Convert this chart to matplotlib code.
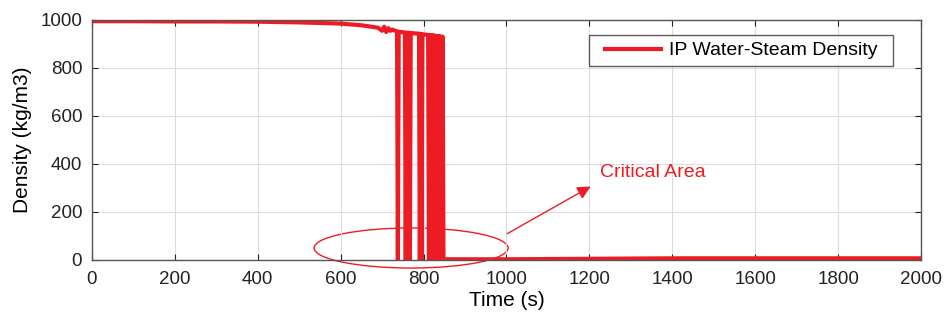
import matplotlib.pyplot as plt
from matplotlib.patches import Ellipse
from matplotlib.path import Path

plt.rcParams['font.family'] = ['Liberation Sans', 'DejaVu Sans']

# Time (s)
time = [0, 100, 200, 300, 400, 500, 600, 650, 690, 700, 705, 710, 715, 720, 725, 730, 736,
        738, 740, 750, 755, 757, 759, 765, 767, 769, 780, 789, 791, 793, 795, 797, 799, 805,
        811, 813, 815, 817, 819, 821, 823, 825, 827, 829, 831, 833, 835, 837, 839, 841, 843,
        845, 846, 848, 900, 1000, 1100, 1200, 1300, 1400, 1600, 1800, 2000]
# Density (kg/m3)
density = [995, 995, 994, 994, 993, 990, 985, 978, 968, 955, 972, 950, 966, 955, 960, 956, 953,
           0, 951, 949, 948, 0, 947, 947, 0, 946, 944, 943, 0, 942, 0, 941, 940, 939,
           938, 0, 937, 0, 937, 0, 936, 0, 935, 0, 934, 0, 933, 0, 932, 0, 931,
           0, 930, 3, 3, 3, 4, 5, 6, 7, 7, 7, 7]

red = '#ed1c24'

fig, ax = plt.subplots(figsize=(9.48, 3.2), dpi=100)
fig.subplots_adjust(left=0.097, right=0.9715, bottom=0.1875, top=0.9375)

ax.plot(time, density, color=red, linewidth=3.0, label='IP Water-Steam Density')

ax.set_xlim(0, 2000)
ax.set_ylim(0, 1000)
ax.set_xticks(range(0, 2001, 200))
ax.set_yticks(range(0, 1001, 200))
ax.grid(True, color='#dddddd', linewidth=0.8)
ax.tick_params(direction='in', top=True, right=True, labelsize=13.5, length=4, colors='#222222')
ax.tick_params(axis='x', pad=8)
ax.tick_params(axis='y', pad=7)
for s in ax.spines.values():
    s.set_color('#555555')
    s.set_linewidth(1.0)

ax.set_xlabel('Time (s)', fontsize=15, labelpad=2)
ax.set_ylabel('Density (kg/m3)', fontsize=15, labelpad=6)

# zone critique
ell = Ellipse((770, 50), 468, 167, fill=False, edgecolor=red, linewidth=1.0, clip_on=False)
ax.add_patch(ell)
ax.annotate('', xy=(1209, 312), xytext=(996, 104),
            arrowprops=dict(arrowstyle='-|>', color=red, lw=1.0, mutation_scale=20))
ax.text(1225, 366, 'Critical Area', color=red, fontsize=14, va='center')


# cadre de légende plus large à gauche et à droite (style MATLAB)
def wide_box(x0, y0, width, height, mutation_size):
    d = 9
    return Path([(x0 - d, y0), (x0 + width + d, y0), (x0 + width + d, y0 + height),
                 (x0 - d, y0 + height), (x0 - d, y0)], closed=True)


leg = ax.legend(loc='upper right', fontsize=14, frameon=True, fancybox=False,
                edgecolor='#333333', handlelength=2.9, handletextpad=0.4, borderpad=0.35,
                borderaxespad=0, bbox_to_anchor=(0.9554, 0.9375))
leg.get_frame().set_linewidth(1.0)
leg.legendPatch.set_boxstyle(wide_box)

plt.savefig('out.png')
